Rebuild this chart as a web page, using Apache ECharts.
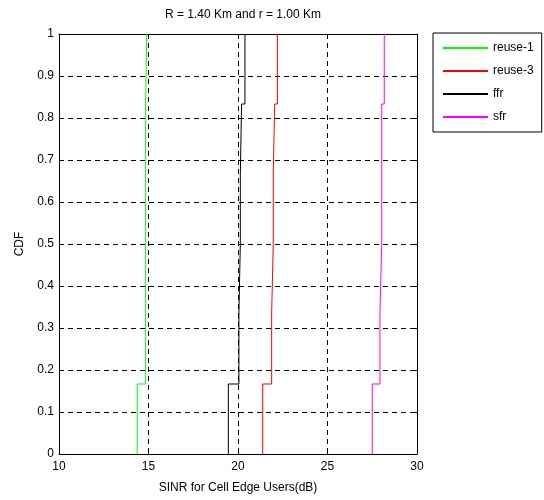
<!DOCTYPE html>
<html>
<head>
<meta charset="utf-8">
<script src="https://cdn.jsdelivr.net/npm/echarts@6/dist/echarts.min.js"></script>
<style>
  html, body { margin: 0; padding: 0; background: #fff; }
  #chart { width: 544px; height: 500px; }
</style>
</head>
<body>
<div id="chart"></div>
<script>
// sorted SINR samples (dB) per scheme
const reuse1 = [14.37, 14.84, 14.84, 14.84, 14.84, 14.90]
const reuse3 = [21.38, 21.88, 21.97, 21.97, 22.05, 22.20]
const ffr = [19.46, 20.05, 20.13, 20.13, 20.20, 20.39]
const sfr = [27.50, 27.93, 28.03, 28.03, 28.03, 28.17]

const seriesNames = ['reuse-1', 'reuse-3', 'ffr', 'sfr']
const seriesColors = ['#00ff00', '#ff0000', '#000000', '#ff00ff']

// empirical cdf as a staircase: vertical jump of 1/n at each sample
const toCdf = samples => {
    const n = samples.length
    const pts = []
    samples.forEach((s, i) => {
        pts.push([s, i / n])
        pts.push([s, (i + 1) / n])
    })
    return pts
}

const font = 'Liberation Sans, Arial, sans-serif'
const dashed = { show: true, lineStyle: { color: '#000', type: [5, 4], width: 1 } }

const chart = echarts.init(document.getElementById('chart'))
chart.setOption({
    animation: false,
    textStyle: { fontFamily: font },
    title: {
        text: 'R = 1.40 Km and r = 1.00 Km',
        left: 238,
        top: 4,
        textAlign: 'center',
        textStyle: { fontSize: 12, fontWeight: 'normal', color: '#000', fontFamily: font },
    },
    legend: {
        orient: 'vertical',
        left: 433,
        top: 33,
        padding: [9, 8, 9, 9],
        itemGap: 11,
        itemWidth: 45,
        itemHeight: 12,
        borderColor: '#000',
        borderWidth: 1,
        itemStyle: { opacity: 0 },
        textStyle: { fontSize: 12, color: '#000', fontFamily: font },
        data: seriesNames,
    },
    grid: { left: 59, right: 127, top: 34, bottom: 46 },
    xAxis: [
        {
            type: 'value',
            min: 10,
            max: 30,
            interval: 5,
            name: 'SINR for Cell Edge Users(dB)',
            nameLocation: 'middle',
            nameGap: 28,
            nameTextStyle: { fontSize: 12, color: '#000' },
            axisLine: { show: true, onZero: false, lineStyle: { color: '#000' } },
            axisTick: { show: true, inside: true, length: 5, lineStyle: { color: '#000' } },
            axisLabel: { fontSize: 12, color: '#000', margin: 7 },
            splitLine: dashed,
        },
        {
            type: 'value',
            position: 'top',
            min: 10,
            max: 30,
            interval: 5,
            axisLine: { show: true, onZero: false, lineStyle: { color: '#000' } },
            axisTick: { show: true, inside: true, length: 5, lineStyle: { color: '#000' } },
            axisLabel: { show: false },
            splitLine: { show: false },
        },
    ],
    yAxis: [
        {
            type: 'value',
            min: 0,
            max: 1,
            interval: 0.1,
            name: 'CDF',
            nameLocation: 'middle',
            nameGap: 33,
            nameTextStyle: { fontSize: 12, color: '#000' },
            axisLine: { show: true, onZero: false, lineStyle: { color: '#000' } },
            axisTick: { show: true, inside: true, length: 5, lineStyle: { color: '#000' } },
            axisLabel: { fontSize: 12, color: '#000', margin: 5 },
            splitLine: dashed,
        },
        {
            type: 'value',
            position: 'right',
            min: 0,
            max: 1,
            interval: 0.1,
            axisLine: { show: true, onZero: false, lineStyle: { color: '#000' } },
            axisTick: { show: true, inside: true, length: 5, lineStyle: { color: '#000' } },
            axisLabel: { show: false },
            splitLine: { show: false },
        },
    ],
    series: [reuse1, reuse3, ffr, sfr].map((samples, i) => ({
        name: seriesNames[i],
        type: 'line',
        symbol: 'none',
        data: toCdf(samples),
        color: seriesColors[i],
        lineStyle: { color: seriesColors[i], width: 1 },
    })),
})
</script>
</body>
</html>
